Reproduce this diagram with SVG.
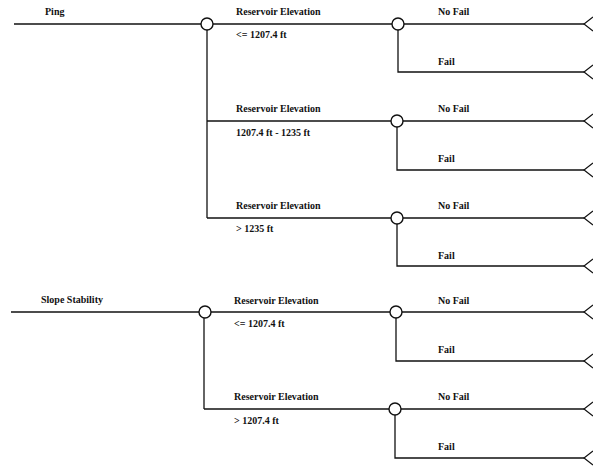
<svg xmlns="http://www.w3.org/2000/svg" width="593" height="466" viewBox="0 0 593 466">
<style>
  .ln{stroke:#111;stroke-width:1.3;fill:none}
  .nd{stroke:#111;stroke-width:1.4;fill:#fff}
  .t{font-family:"Liberation Serif","Times New Roman",serif;font-size:10px;font-weight:bold;fill:#111}
</style>
<defs>
  <marker id="term" markerUnits="userSpaceOnUse" markerWidth="12" markerHeight="18" viewBox="-1 -9 12 18" refX="0" refY="0" orient="auto" overflow="visible">
    <path d="M9,-7 L0,0 L9,7" fill="none" stroke="#111" stroke-width="1.2"/>
  </marker>
</defs>
<rect width="593" height="466" fill="#fff"/>
<g id="connectors">
  <line class="ln" x1="14" y1="24" x2="201" y2="24"/>
  <polyline class="ln" points="207,30 207,218"/>
  <line class="ln" x1="213" y1="24" x2="392" y2="24"/>
  <line class="ln" x1="207" y1="121" x2="391" y2="121"/>
  <line class="ln" x1="207" y1="218" x2="391" y2="218"/>
  <line class="ln" x1="404" y1="24" x2="584" y2="24" marker-end="url(#term)"/>
  <polyline class="ln" points="398,30 398,72 584,72" marker-end="url(#term)"/>
  <line class="ln" x1="403" y1="121" x2="584" y2="121" marker-end="url(#term)"/>
  <polyline class="ln" points="397,127 397,170 584,170" marker-end="url(#term)"/>
  <line class="ln" x1="403" y1="218" x2="584" y2="218" marker-end="url(#term)"/>
  <polyline class="ln" points="397,224 397,266 584,266" marker-end="url(#term)"/>
  <line class="ln" x1="11" y1="312" x2="199" y2="312"/>
  <polyline class="ln" points="204,318 204,409"/>
  <line class="ln" x1="211" y1="312" x2="390" y2="312"/>
  <line class="ln" x1="204" y1="409" x2="389" y2="409"/>
  <line class="ln" x1="402" y1="312" x2="584" y2="312" marker-end="url(#term)"/>
  <polyline class="ln" points="396,318 396,361 584,361" marker-end="url(#term)"/>
  <line class="ln" x1="401" y1="409" x2="584" y2="409" marker-end="url(#term)"/>
  <polyline class="ln" points="395,415 395,458 584,458" marker-end="url(#term)"/>
</g>
<g id="ping">
  <text class="t" x="45" y="15">Ping</text>
  <circle class="nd" cx="207" cy="24" r="6"/>
</g>
<g id="ping-res1">
  <text class="t" x="236" y="15">Reservoir Elevation</text>
  <text class="t" x="236" y="38">&lt;= 1207.4 ft</text>
  <circle class="nd" cx="398" cy="24" r="6"/>
  <text class="t" x="438" y="15">No Fail</text>
  <text class="t" x="438" y="65">Fail</text>
</g>
<g id="ping-res2">
  <text class="t" x="236" y="112">Reservoir Elevation</text>
  <text class="t" x="236" y="136">1207.4 ft - 1235 ft</text>
  <circle class="nd" cx="397" cy="121" r="6"/>
  <text class="t" x="438" y="112">No Fail</text>
  <text class="t" x="438" y="162">Fail</text>
</g>
<g id="ping-res3">
  <text class="t" x="236" y="209">Reservoir Elevation</text>
  <text class="t" x="236" y="232">&gt; 1235 ft</text>
  <circle class="nd" cx="397" cy="218" r="6"/>
  <text class="t" x="438" y="209">No Fail</text>
  <text class="t" x="438" y="259">Fail</text>
</g>
<g id="slope">
  <text class="t" x="41" y="303">Slope Stability</text>
  <circle class="nd" cx="205" cy="312" r="6"/>
</g>
<g id="slope-res1">
  <text class="t" x="234" y="304">Reservoir Elevation</text>
  <text class="t" x="234" y="327">&lt;= 1207.4 ft</text>
  <circle class="nd" cx="396" cy="312" r="6"/>
  <text class="t" x="438" y="304">No Fail</text>
  <text class="t" x="438" y="353">Fail</text>
</g>
<g id="slope-res2">
  <text class="t" x="234" y="400">Reservoir Elevation</text>
  <text class="t" x="234" y="424">&gt; 1207.4 ft</text>
  <circle class="nd" cx="395" cy="409" r="6"/>
  <text class="t" x="438" y="400">No Fail</text>
  <text class="t" x="438" y="450">Fail</text>
</g>
</svg>
